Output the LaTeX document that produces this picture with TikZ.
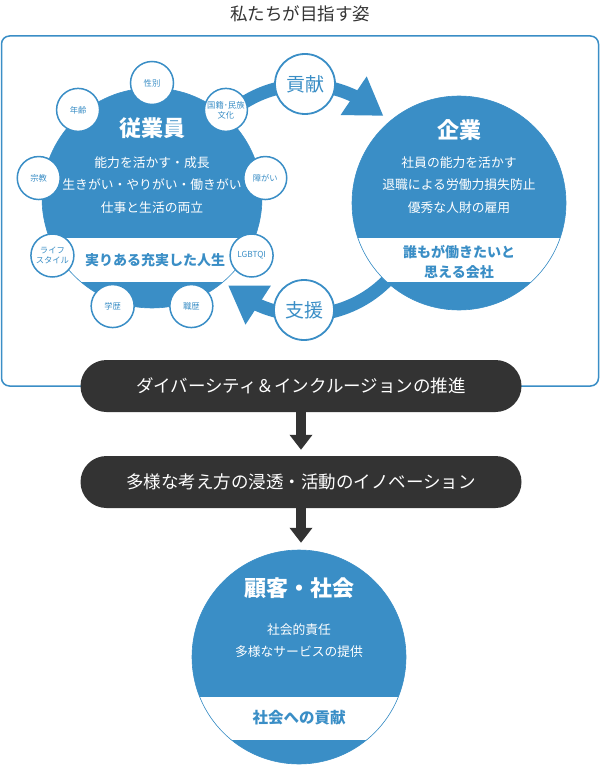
\documentclass[tikz,border=0pt]{standalone}
\usepackage{fontspec}
\setmainfont{Noto Sans CJK JP}
\usetikzlibrary{arrows.meta,bending,positioning,calc}
\definecolor{dibl}{HTML}{3A8EC6}
\definecolor{dipill}{HTML}{333333}

\begin{document}
\begin{tikzpicture}[
    x=1pt, y=-1pt,
    bigcirc/.style={circle, fill=dibl, inner sep=0pt},
    attr/.style={circle, draw=dibl, line width=1.5pt, fill=white, minimum size=43pt, inner sep=0pt, text=dibl, align=center, font=\fontsize{8.3}{10}\selectfont},
    tag/.style={circle, draw=dibl, line width=1.8pt, fill=white, minimum size=60pt, inner sep=0pt, text=dibl, font=\fontsize{19}{22}\selectfont},
    pill/.style={rectangle, rounded corners=26pt, fill=dipill, minimum width=441pt, minimum height=52pt, text=white, font=\fontsize{17.5}{20}\selectfont},
    head/.style={text=white, font=\bfseries\fontsize{22}{26}\selectfont},
    body/.style={text=white, align=center, font=\fontsize{12.8}{22.5}\selectfont},
    bandtext/.style={text=dibl, align=center, font=\bfseries\fontsize{14}{20}\selectfont},
    flow/.style={-{Triangle[width=44pt, length=36pt]}, dibl, line width=13pt},
    down/.style={-{Triangle[width=22pt, length=15pt]}, dipill, line width=10pt}
]
    \useasboundingbox (0,0) rectangle (600,767);

    \node[text=dipill, font=\fontsize{17.5}{20}\selectfont] (title) at (300,14) {私たちが目指す姿};
    \draw[dibl, line width=1.5pt, rounded corners=8pt] (1.5,36) rectangle (598.5,386);

    % arcs between the two circles
    \coordinate (hub) at (305,200);
    \draw[flow] ([shift={(222:115)}]hub) arc[start angle=222, end angle=313, radius=115];
    \draw[flow] ([shift={(35:115)}]hub) arc[start angle=35, end angle=132, radius=115];

    \node[bigcirc, minimum size=220pt] (staff) at (152,198) {};
    \node[bigcirc, minimum size=214pt] (firm) at (459,203) {};
    \node[bigcirc, minimum size=214pt] (client) at (299,657) {};

    \foreach \c/\r/\ya/\yb in {staff/110/238/282, firm/107/238/282, client/107/697/740}{
        \begin{scope}
            \clip (\c) circle[radius=\r];
            \fill[white] (0,\ya) rectangle (600,\yb);
        \end{scope}
        \draw[dibl, line width=0.6pt] (\c) circle[radius=\r];
    }

    \foreach \ang/\txt [count=\i] in {-90/性別, -50/{国籍･民族\\文化}, -10/障がい, 30/LGBTQI, 70/職歴, 110/学歴, 150/{ライフ\\スタイル}, 190/宗教, 230/年齢}
        \node[attr] (attr\i) at ($(staff)+(\ang:115)$) {\txt};

    \node[tag] (give) at (305,84) {貢献};
    \node[tag] (aid) at (304,310) {支援};

    \node[head] (staffhead) at (152,128) {従業員};
    \node[body] (staffbody) at (152,185) {能力を活かす・成長\\生きがい・やりがい・働きがい\\仕事と生活の両立};
    \node[bandtext] (staffband) at (155,260) {実りある充実した人生};

    \node[head] (firmhead) at (459,130) {企業};
    \node[body] (firmbody) at (459,185) {社員の能力を活かす\\退職による労働力損失防止\\優秀な人財の雇用};
    \node[bandtext] (firmband) at (459,262) {誰もが働きたいと\\思える会社};

    \node[pill] (promote) at (301,386) {ダイバーシティ＆インクルージョンの推進};
    \node[pill] (innov) at (301,482) {多様な考え方の浸透・活動のイノベーション};

    \draw[down, shorten >=6pt] (promote.south) -- (innov.north);
    \draw[down, shorten >=7pt] (innov.south) -- (innov.south |- client.north);

    \node[head] (clienthead) at (299,588) {顧客・社会};
    \node[body, font=\fontsize{12.8}{22}\selectfont] (clientbody) at (299,641) {社会的責任\\多様なサービスの提供};
    \node[bandtext, font=\bfseries\fontsize{15.5}{20}\selectfont] (clientband) at (299,718) {社会への貢献};
\end{tikzpicture}
\end{document}
